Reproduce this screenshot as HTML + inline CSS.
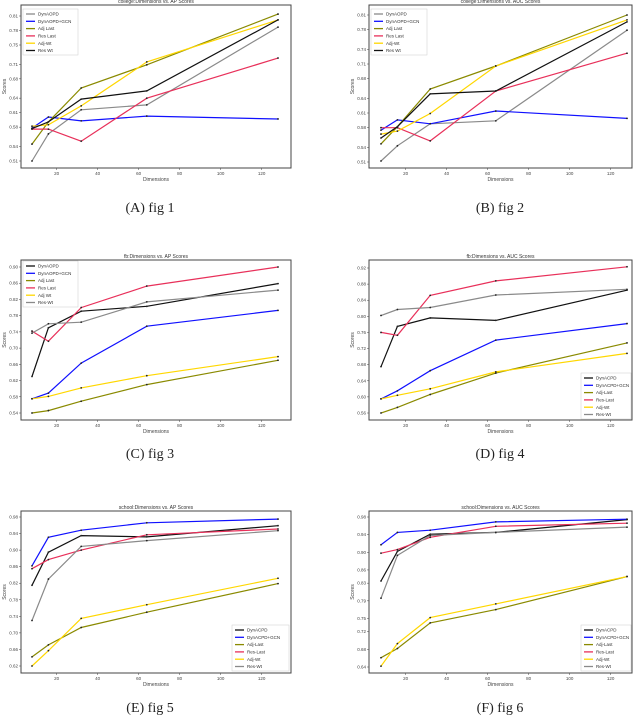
<!DOCTYPE html>
<html><head><meta charset="utf-8">
<style>
body{margin:0;background:#fff;width:640px;height:721px;overflow:hidden;font-family:"Liberation Sans",sans-serif}
svg{position:absolute;left:0;top:0}
.cap{font-family:"Liberation Serif",serif;font-size:14px;fill:#222}
</style></head>
<body>
<svg id="s" width="640" height="721"></svg>
<script>
const dims = [8,16,32,64,128];
const xTicks = [20,40,60,80,100,120];
// panel 1 college AP
const p1DynA = [0.51,0.566,0.616,0.626,0.787];
const p1Gcn = [0.578,0.601,0.593,0.603,0.597];
const p1AdjLast = [0.545,0.591,0.661,0.709,0.814];
const p1ResLast = [0.576,0.576,0.551,0.640,0.723];
const p1AdjWt = [0.582,0.585,0.624,0.715,0.802];
const p1ResWt = [0.577,0.591,0.638,0.655,0.802];
const p1Ticks = [0.51,0.54,0.58,0.61,0.64,0.68,0.71,0.75,0.78,0.81];
// panel 2 college AUC
const p2DynA = [0.512,0.543,0.588,0.594,0.779];
const p2Gcn = [0.575,0.596,0.588,0.614,0.599];
const p2AdjLast = [0.547,0.582,0.659,0.706,0.81];
const p2ResLast = [0.580,0.580,0.553,0.655,0.732];
const p2AdjWt = [0.567,0.573,0.609,0.706,0.80];
const p2ResWt = [0.559,0.582,0.649,0.655,0.796];
const p2Ticks = [0.51,0.54,0.58,0.61,0.64,0.68,0.71,0.74,0.78,0.81];
// panel 3 fb AP
const p3DynA = [0.63,0.75,0.791,0.803,0.859];
const p3Gcn = [0.575,0.589,0.663,0.754,0.793];
const p3AdjLast = [0.54,0.546,0.569,0.61,0.67];
const p3ResLast = [0.742,0.717,0.80,0.853,0.90];
const p3AdjWt = [0.575,0.581,0.602,0.632,0.679];
const p3ResWt = [0.737,0.76,0.764,0.814,0.843];
const p3Ticks = [0.54,0.58,0.62,0.66,0.70,0.74,0.78,0.82,0.86,0.90];
// panel 4 fb AUC
const p4DynA = [0.675,0.775,0.796,0.79,0.865];
const p4Gcn = [0.595,0.615,0.665,0.741,0.782];
const p4AdjLast = [0.56,0.574,0.606,0.659,0.734];
const p4ResLast = [0.76,0.753,0.852,0.888,0.923];
const p4AdjWt = [0.595,0.604,0.62,0.662,0.708];
const p4ResWt = [0.802,0.817,0.822,0.853,0.867];
const p4Ticks = [0.56,0.60,0.64,0.68,0.72,0.76,0.80,0.84,0.88,0.92];
// panel 5 school AP
const p5DynA = [0.815,0.895,0.935,0.932,0.959];
const p5Gcn = [0.862,0.931,0.948,0.966,0.975];
const p5AdjLast = [0.642,0.671,0.713,0.75,0.819];
const p5ResLast = [0.855,0.877,0.90,0.937,0.951];
const p5AdjWt = [0.62,0.657,0.735,0.768,0.832];
const p5ResWt = [0.73,0.83,0.909,0.923,0.947];
const p5Ticks = [0.62,0.66,0.70,0.74,0.78,0.82,0.86,0.90,0.94,0.98];
// panel 6 school AUC
const p6DynA = [0.835,0.902,0.941,0.945,0.974];
const p6Gcn = [0.917,0.945,0.95,0.969,0.975];
const p6AdjLast = [0.661,0.682,0.74,0.77,0.845];
const p6ResLast = [0.898,0.906,0.934,0.959,0.966];
const p6AdjWt = [0.642,0.693,0.752,0.783,0.845];
const p6ResWt = [0.796,0.893,0.938,0.945,0.957];
const p6Ticks = [0.64,0.68,0.72,0.75,0.79,0.83,0.86,0.90,0.94,0.98];

const NS="http://www.w3.org/2000/svg";
const svg=document.getElementById('s');
function mk(tag,attrs,parent,text){const e=document.createElementNS(NS,tag);for(const k in attrs)e.setAttribute(k,attrs[k]);if(text!==undefined)e.textContent=text;(parent||svg).appendChild(e);return e;}
const C={gray:'#8a8a8a',blue:'#1010ff',olive:'#8a8a00',red:'#e8305a',yellow:'#ffd700',black:'#111'};

function panel(o){
  const g=mk('g',{});
  
  
  const xs=v=>o.x8+(v-8)*(o.x128-o.x8)/120;
  const ys=v=>o.yBot-(v-o.vBot)*(o.yBot-o.yTop)/(o.vTop-o.vBot);
  const frame=mk('rect',{x:o.l,y:o.t,width:o.r-o.l,height:o.b-o.t,fill:'none',stroke:'#444','stroke-width':1},g);
  
  
  const tt=mk('text',{x:(o.l+o.r)/2,y:o.t-2,'font-size':5,'text-anchor':'middle',fill:'#333'},g,o.title);
  
  
  xTicks.forEach(t=>{const x=xs(t);mk('line',{x1:x,x2:x,y1:o.b,y2:o.b+2,stroke:'#444','stroke-width':0.5},g);
    const lb=mk('text',{x:x,y:o.b+7,'font-size':4.5,'text-anchor':'middle',fill:'#444'},g,t);
    
    });
  o.ticks.forEach(t=>{const y=ys(t);mk('line',{x1:o.l-2,x2:o.l,y1:y,y2:y,stroke:'#444','stroke-width':0.5},g);
    const lb=mk('text',{x:o.l-3,y:y+1.5,'font-size':4.5,'text-anchor':'end',fill:'#444'},g,t.toFixed(2));
    
    });
  const xl=mk('text',{x:(o.l+o.r)/2,y:o.b+13,'font-size':5,'text-anchor':'middle',fill:'#444'},g,'Dimensions');
  
  
  const yl=mk('text',{x:0,y:0,'font-size':5,'text-anchor':'middle',fill:'#444',transform:`translate(${o.l-15},${(o.t+o.b)/2}) rotate(-90)`},g,'Scores');
  
  
  o.series.forEach(s=>{
    const pts=s.data.map((v,i)=>xs(dims[i]).toFixed(1)+','+ys(v).toFixed(1)).join(' ');
    const pl=mk('polyline',{points:pts,fill:'none',stroke:C[s.c],'stroke-width':1.2},g);
    
    
    s.data.forEach((v,i)=>{const d=mk('circle',{cx:xs(dims[i]),cy:ys(v),r:0.9,fill:'#222'},g);
      
      });
  });
  const L=o.leg;
  const lb=mk('rect',{x:L.x,y:L.y,width:L.w,height:46,fill:'#fff',stroke:'#ccc','stroke-width':0.5},g);
  
  
  o.series.forEach((s,i)=>{const y=L.y+5+i*7.3;
    mk('line',{x1:L.x+3,x2:L.x+12,y1:y,y2:y,stroke:C[s.c],'stroke-width':1.3},g);
    const t=mk('text',{x:L.x+15,y:y+1.6,'font-size':4.5,fill:'#333'},g,s.label);
    
    });
  const cp=mk('text',{x:o.capX,y:o.capY,'text-anchor':'middle',class:'cap'},svg,o.cap);
  
  
}
const L1=['DynAOPD','DynAOPD+GCN','Adj Last','Res Last','Adj-Wt','Res Wt'];
const L3=['DynAOPD','DynAOPD+GCN','Adj Last','Res Last','Adj Wt','Res-Wt'];
const L4=['DynACPD','DynACPD+GCN','Adj-Last','Res-Last','Adj-Wt','Res-Wt'];
function ser(labels,cols,arr){return arr.map((d,i)=>({data:d,c:cols[i],label:labels[i]}));}
const colA=['gray','blue','olive','red','yellow','black'];
const colC=['black','blue','olive','red','yellow','gray'];
const left={l:21,r:291,x8:32,x128:278};
const right={l:369,r:632,x8:381,x128:627};
panel({...left,name:'chart-college-ap',t:5,b:168,yBot:161,vBot:0.51,yTop:16,vTop:0.81,ticks:p1Ticks,title:'college:Dimensions vs. AP Scores',
 series:ser(L1,colA,[p1DynA,p1Gcn,p1AdjLast,p1ResLast,p1AdjWt,p1ResWt]),leg:{x:23,y:9,w:55},cap:'(A) fig 1',capX:150,capY:212});
panel({...right,name:'chart-college-auc',t:5,b:168,yBot:162,vBot:0.51,yTop:15,vTop:0.81,ticks:p2Ticks,title:'college:Dimensions vs. AUC Scores',
 series:ser(L1,colA,[p2DynA,p2Gcn,p2AdjLast,p2ResLast,p2AdjWt,p2ResWt]),leg:{x:371,y:9,w:56},cap:'(B) fig 2',capX:500,capY:212});
panel({...left,name:'chart-fb-ap',t:260,b:420,yBot:413,vBot:0.54,yTop:267,vTop:0.90,ticks:p3Ticks,title:'fb:Dimensions vs. AP Scores',
 series:ser(L3,colC,[p3DynA,p3Gcn,p3AdjLast,p3ResLast,p3AdjWt,p3ResWt]),leg:{x:23,y:261,w:55},cap:'(C) fig 3',capX:150,capY:458});
panel({...right,name:'chart-fb-auc',t:260,b:420,yBot:413,vBot:0.56,yTop:268,vTop:0.92,ticks:p4Ticks,title:'fb:Dimensions vs. AUC Scores',
 series:ser(L4,colC,[p4DynA,p4Gcn,p4AdjLast,p4ResLast,p4AdjWt,p4ResWt]),leg:{x:581,y:373,w:50},cap:'(D) fig 4',capX:500,capY:458});
panel({...left,name:'chart-school-ap',t:511,b:673,yBot:666,vBot:0.62,yTop:517,vTop:0.98,ticks:p5Ticks,title:'school:Dimensions vs. AP Scores',
 series:ser(L4,colC,[p5DynA,p5Gcn,p5AdjLast,p5ResLast,p5AdjWt,p5ResWt]),leg:{x:232,y:625,w:57},cap:'(E) fig 5',capX:150,capY:712});
panel({...right,name:'chart-school-auc',t:511,b:673,yBot:667,vBot:0.64,yTop:517,vTop:0.98,ticks:p6Ticks,title:'school:Dimensions vs. AUC Scores',
 series:ser(L4,colC,[p6DynA,p6Gcn,p6AdjLast,p6ResLast,p6AdjWt,p6ResWt]),leg:{x:581,y:625,w:50},cap:'(F) fig 6',capX:500,capY:712});
</script>
</body></html>
